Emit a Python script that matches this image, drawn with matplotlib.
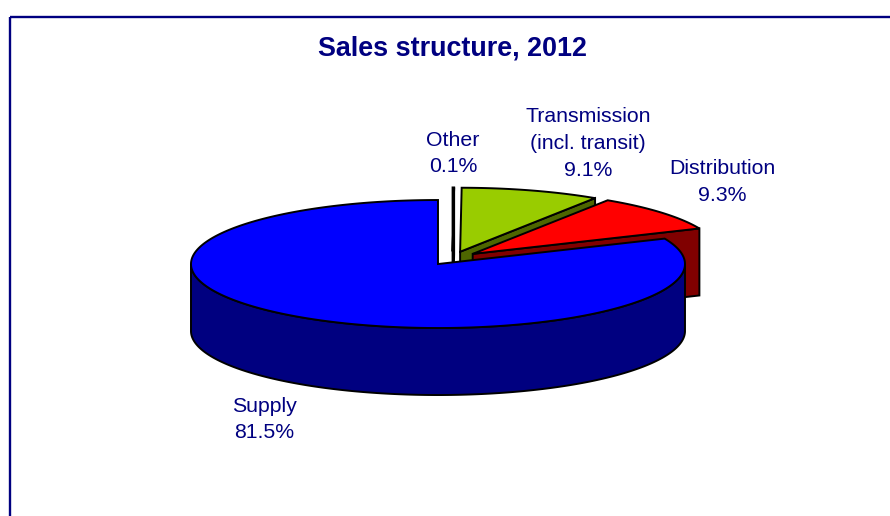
import numpy as np
import matplotlib
matplotlib.use("Agg")
import matplotlib.pyplot as plt
from matplotlib.patches import Polygon, Rectangle

# Sales breakdown, 2012 (per cent of total), clockwise from 12 o'clock
categories = ["Other", "Transmission\n(incl. transit)", "Distribution", "Supply"]
shares = [0.1, 9.1, 9.3, 81.5]
title = "Sales structure, 2012"

top_colors = ["#FFFFFF", "#99CC00", "#FF0000", "#0000FF"]
side_colors = ["#C0C0C0", "#4D6600", "#800000", "#000080"]
text_color = "#000080"

W, H, DPI = 890, 516, 100
fig = plt.figure(figsize=(W / DPI, H / DPI), dpi=DPI)
ax = fig.add_axes([0, 0, 1, 1])
ax.set_xlim(0, W)
ax.set_ylim(H, 0)
ax.axis("off")

plt.rcParams["font.family"] = ["Liberation Sans", "DejaVu Sans"]

# chart frame (runs off the right and bottom edges)
ax.add_patch(Rectangle((10.0, 16.5), 2000, 2000, fill=False,
                       edgecolor="#000080", linewidth=1.7, zorder=0))

# projected pie geometry (pixels)
CX, CY = 452.5, 258.3
RX, RY = 247.0, 64.0
DEPTH = 67.0
EXPLODE = 0.107
START = 90.0
EDGE = dict(edgecolor="black", linewidth=1.4, joinstyle="miter")


def pt(vx, vy, a):
    t = np.radians(a)
    return np.array([vx + RX * np.cos(t), vy - RY * np.sin(t)])


def arc(vx, vy, a0, a1):
    n = max(2, int(abs(a1 - a0) * 2) + 2)
    t = np.radians(np.linspace(a0, a1, n))
    return np.column_stack([vx + RX * np.cos(t), vy - RY * np.sin(t)])


side_faces = []   # (sort key, polygon, colour)
top_faces = []

cum = 0.0
for share, tc, sc in zip(shares, top_colors, side_colors):
    a_hi = START - 3.6 * cum
    a_lo = a_hi - 3.6 * share
    cum += share
    mid = np.radians((a_lo + a_hi) / 2)
    vx = CX + EXPLODE * RX * np.cos(mid)
    vy = CY - EXPLODE * RY * np.sin(mid)
    v = np.array([vx, vy])
    down = np.array([0.0, DEPTH])

    # top face
    top = np.vstack([v, arc(vx, vy, a_lo, a_hi)])
    top_faces.append((top, tc))

    # radial cut faces that turn toward the viewer
    if np.cos(np.radians(a_lo)) > 1e-9:
        p = pt(vx, vy, a_lo)
        poly = np.array([v, p, p + down, v + down])
        side_faces.append((poly[:, 1].mean(), poly, sc))
    if np.cos(np.radians(a_hi)) < -1e-9:
        p = pt(vx, vy, a_hi)
        poly = np.array([v, p, p + down, v + down])
        side_faces.append((poly[:, 1].mean(), poly, sc))

    # outer wall on the front half of the ellipse
    for k in range(-2, 2):
        f0, f1 = 180 + 360 * k, 360 + 360 * k
        b0, b1 = max(a_lo, f0), min(a_hi, f1)
        if b1 - b0 > 1e-6:
            upper = arc(vx, vy, b0, b1)
            poly = np.vstack([upper, (upper + down)[::-1]])
            side_faces.append((poly[:, 1].mean() + 1000, poly, sc))

z = 1
for _, poly, col in sorted(side_faces, key=lambda s: s[0]):
    ax.add_patch(Polygon(poly, closed=True, facecolor=col, zorder=z, **EDGE))
    z += 1
for poly, col in top_faces:
    ax.add_patch(Polygon(poly, closed=True, facecolor=col, zorder=z, **EDGE))
    z += 1

# data labels
label_pos = [(453, 153.5), (588, 143.5), (722, 182), (264, 419.5)]
for cat, share, (lx, ly) in zip(categories, shares, label_pos):
    ax.text(lx, ly, f"{cat}\n{share:.1f}%", ha="center", va="center",
            fontsize=15.3, color=text_color, linespacing=1.5, zorder=50)

ax.text(453, 48, title, ha="center", va="center", fontsize=19.4,
        fontweight="bold", color=text_color, zorder=50)

fig.savefig("out.png", dpi=DPI)
